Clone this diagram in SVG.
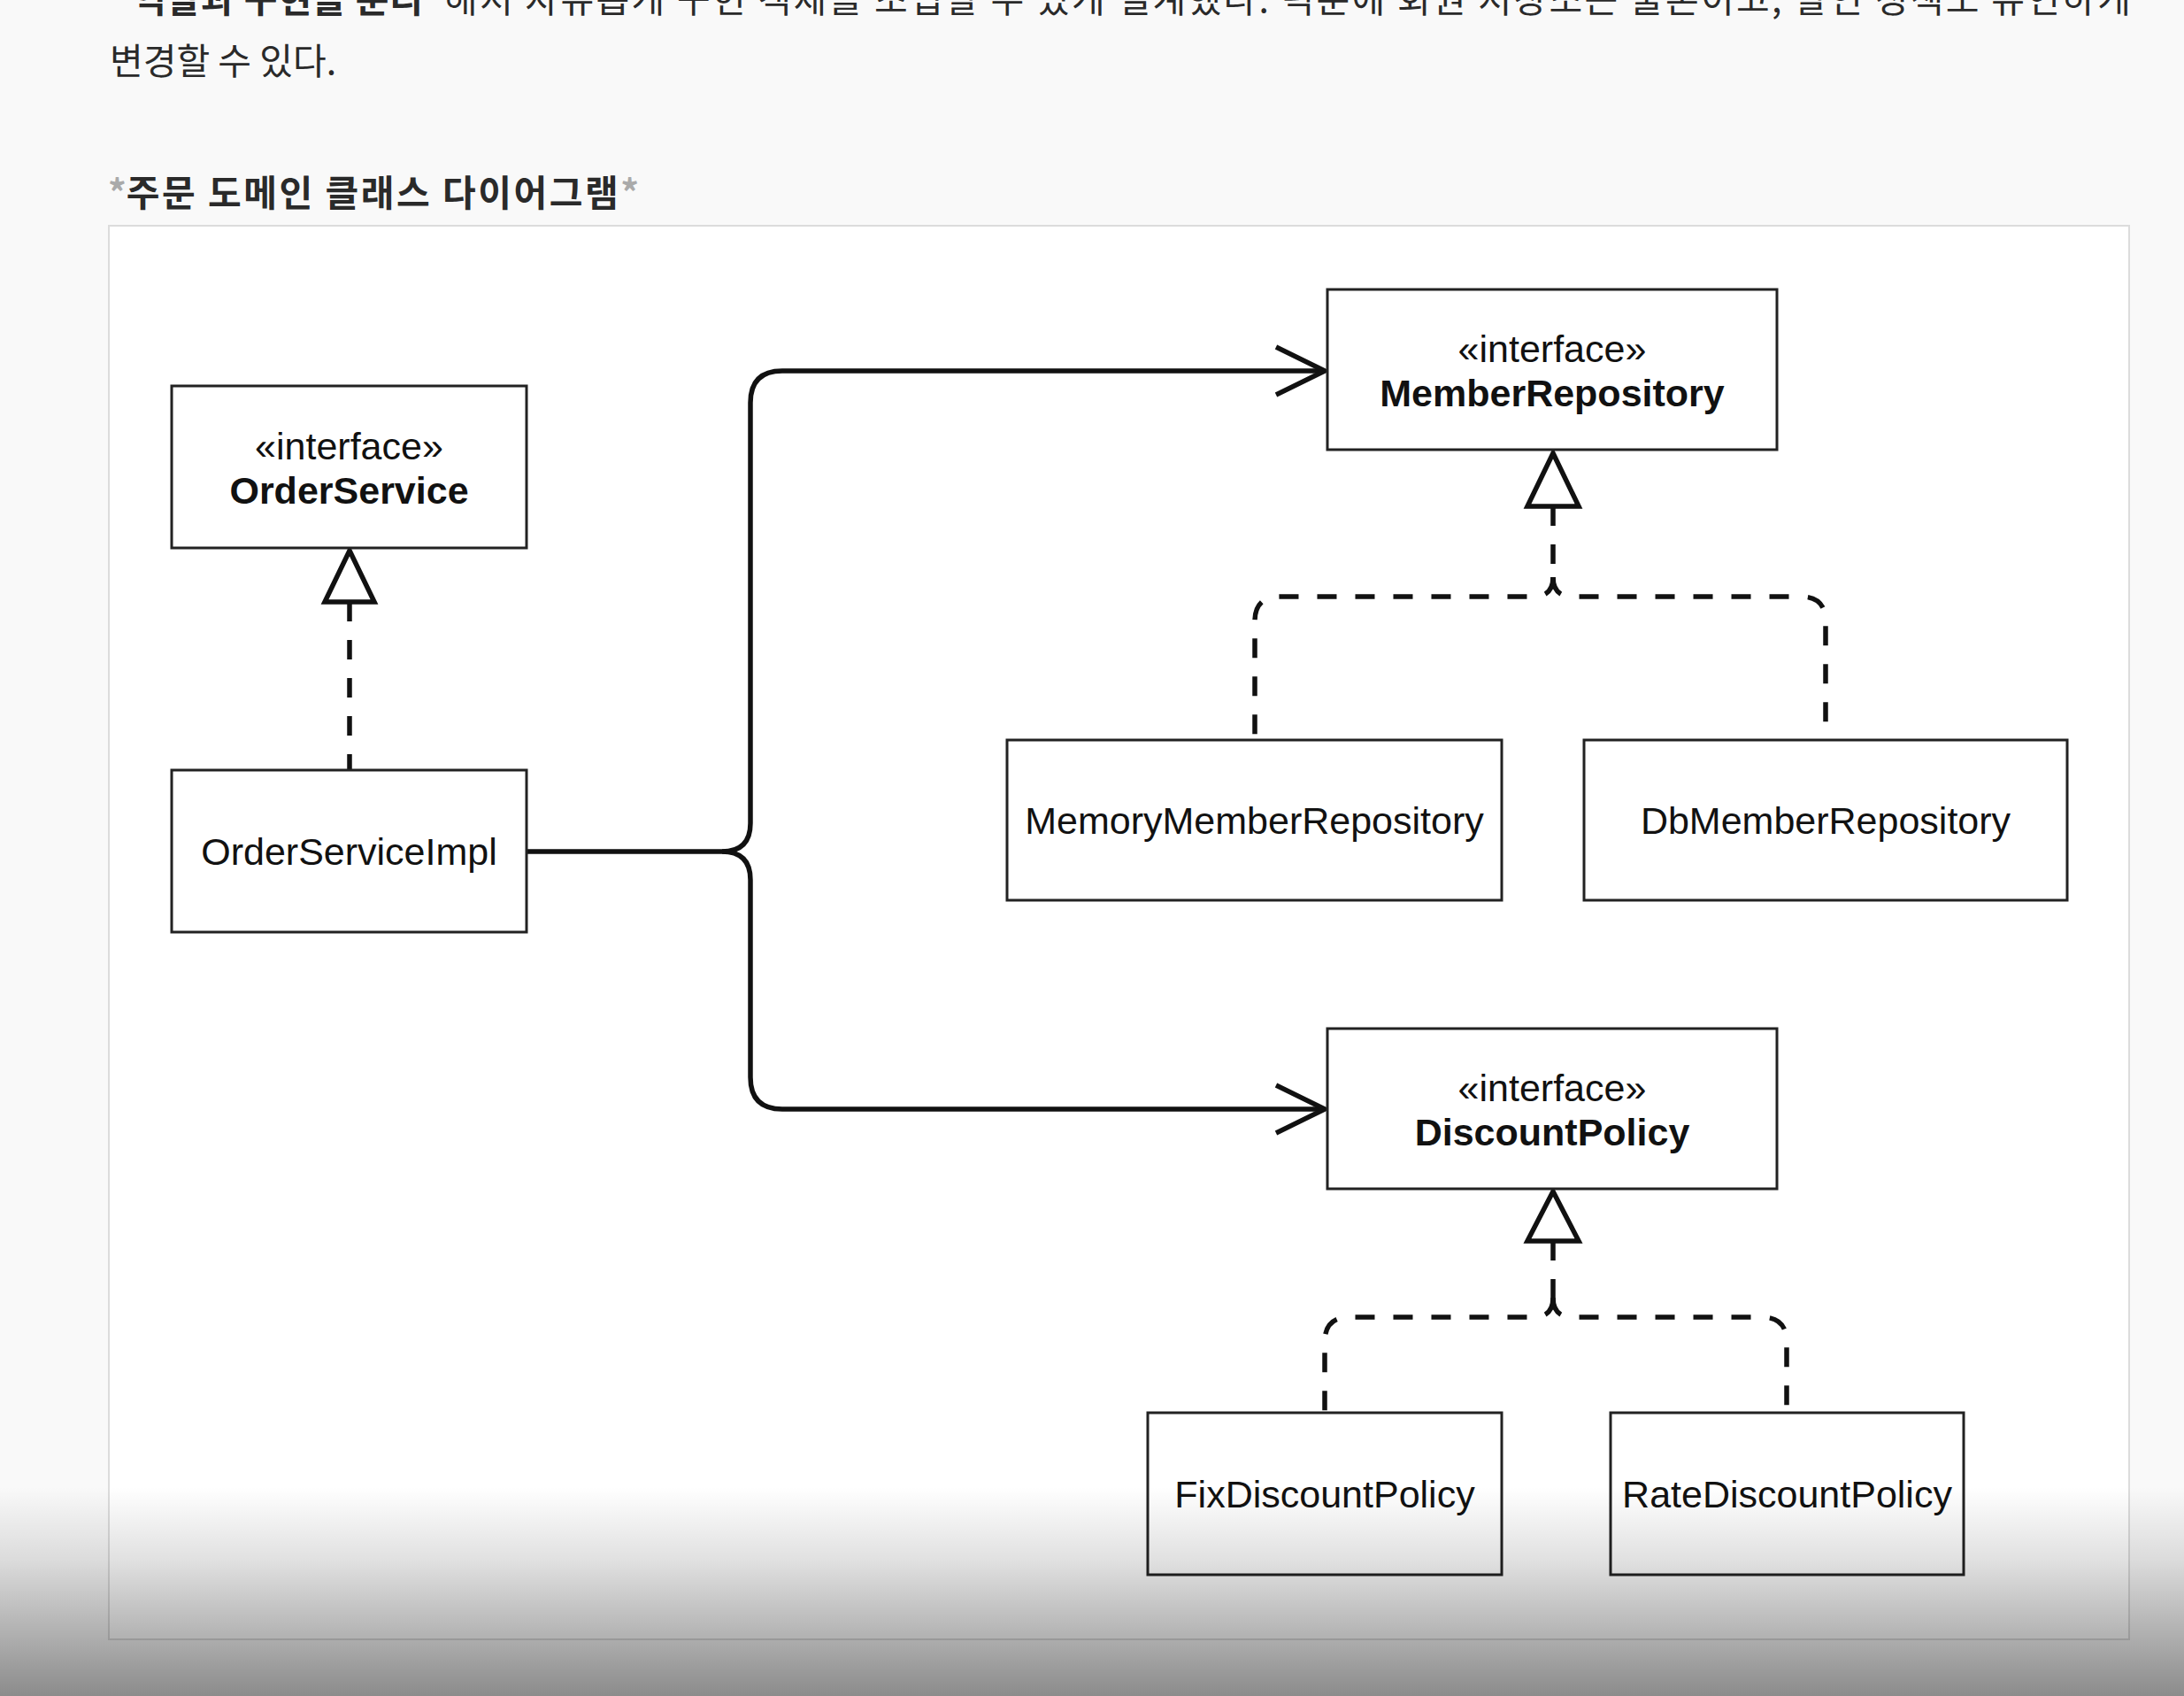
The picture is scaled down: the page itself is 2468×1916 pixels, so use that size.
<svg xmlns="http://www.w3.org/2000/svg" width="2468" height="1916" viewBox="0 0 2468 1916">
<defs>
<linearGradient id="shade" x1="0" y1="0" x2="0" y2="1">
<stop offset="0" stop-color="#000" stop-opacity="0"/>
<stop offset="0.35" stop-color="#000" stop-opacity="0.12"/>
<stop offset="1" stop-color="#000" stop-opacity="0.44"/>
</linearGradient>
<style>
.doc{font-family:"Noto Sans CJK KR","Noto Sans",sans-serif;fill:#2a2a2a;font-size:41px}
.b{font-weight:bold}
.star{fill:#aaa}
.box{fill:#fff;stroke:#222;stroke-width:3}
.lbl{font-family:"Liberation Sans",Arial,sans-serif;font-size:43px;fill:#111;text-anchor:middle}
.conn{fill:none;stroke:#111;stroke-width:5.5;stroke-linejoin:round}
.dash{stroke-dasharray:22 21}
.tri{fill:#fff;stroke:#111;stroke-width:5.5;stroke-linejoin:miter}
</style>
</defs>
<rect x="0" y="0" width="2468" height="1916" fill="#f9f9f9"/>
<g id="doc-text">
<text class="doc b" x="150" y="14" textLength="328" lengthAdjust="spacing">역할과 구현을 분리</text>
<text class="doc" x="502" y="14" textLength="1906" lengthAdjust="spacing">해서 자유롭게 구현 객체를 조립할 수 있게 설계했다. 덕분에 회원 저장소는 물론이고, 할인 정책도 유연하게</text>
<text class="doc" x="124" y="84" font-size="43">변경할 수 있다.</text>
<text class="doc b" x="122" y="233" font-size="45"><tspan class="star">*</tspan><tspan textLength="556" lengthAdjust="spacing">주문 도메인 클래스 다이어그램</tspan><tspan class="star">*</tspan></text>
</g>
<rect id="frame" x="123" y="255" width="2283" height="1597" fill="#fff" stroke="#dcdcdc" stroke-width="2"/>
<g id="connectors">
<path class="conn" d="M595,962 H816 Q848,962 848,930 V455 Q848,419 884,419 H1497"/>
<path class="conn" d="M816,962 Q848,962 848,994 V1217 Q848,1253 884,1253 H1497"/>
<path class="conn" d="M1442,392 L1497,419 L1442,446"/>
<path class="conn" d="M1442,1226 L1497,1253 L1442,1280"/>
<path class="conn dash" d="M395,680 V870"/>
<path class="tri" d="M395,622 L423,680 L367,680 Z"/>
<path class="conn dash" d="M1755,572 V652"/>
<path class="conn dash" d="M1755,652 Q1755,674 1733,674 H1446 Q1418,674 1418,702 V836"/>
<path class="conn dash" d="M1755,652 Q1755,674 1777,674 H2035 Q2063,674 2063,702 V836"/>
<path class="tri" d="M1755,512 L1784,572 L1726,572 Z"/>
<path class="conn dash" d="M1755,1402 V1466"/>
<path class="conn dash" d="M1755,1466 Q1755,1488 1733,1488 H1525 Q1497,1488 1497,1516 V1596"/>
<path class="conn dash" d="M1755,1466 Q1755,1488 1777,1488 H1991 Q2019,1488 2019,1516 V1596"/>
<path class="tri" d="M1755,1346 L1784,1402 L1726,1402 Z"/>
</g>
<g id="OrderService">
<rect class="box" x="194" y="436" width="401" height="183"/>
<text class="lbl" x="394.5" y="519">«interface»</text>
<text class="lbl b" x="394.5" y="569">OrderService</text>
</g>
<g id="OrderServiceImpl">
<rect class="box" x="194" y="870" width="401" height="183"/>
<text class="lbl" x="394.5" y="977">OrderServiceImpl</text>
</g>
<g id="MemberRepository">
<rect class="box" x="1500" y="327" width="508" height="181"/>
<text class="lbl" x="1754" y="409">«interface»</text>
<text class="lbl b" x="1754" y="459">MemberRepository</text>
</g>
<g id="MemoryMemberRepository">
<rect class="box" x="1138" y="836" width="559" height="181"/>
<text class="lbl" x="1417.5" y="942">MemoryMemberRepository</text>
</g>
<g id="DbMemberRepository">
<rect class="box" x="1790" y="836" width="546" height="181"/>
<text class="lbl" x="2063" y="942">DbMemberRepository</text>
</g>
<g id="DiscountPolicy">
<rect class="box" x="1500" y="1162" width="508" height="181"/>
<text class="lbl" x="1754" y="1244">«interface»</text>
<text class="lbl b" x="1754" y="1294">DiscountPolicy</text>
</g>
<g id="FixDiscountPolicy">
<rect class="box" x="1297" y="1596" width="400" height="183"/>
<text class="lbl" x="1497" y="1703">FixDiscountPolicy</text>
</g>
<g id="RateDiscountPolicy">
<rect class="box" x="1820" y="1596" width="399" height="183"/>
<text class="lbl" x="2019.5" y="1703">RateDiscountPolicy</text>
</g>
<rect x="0" y="1680" width="2468" height="236" fill="url(#shade)"/>
</svg>
